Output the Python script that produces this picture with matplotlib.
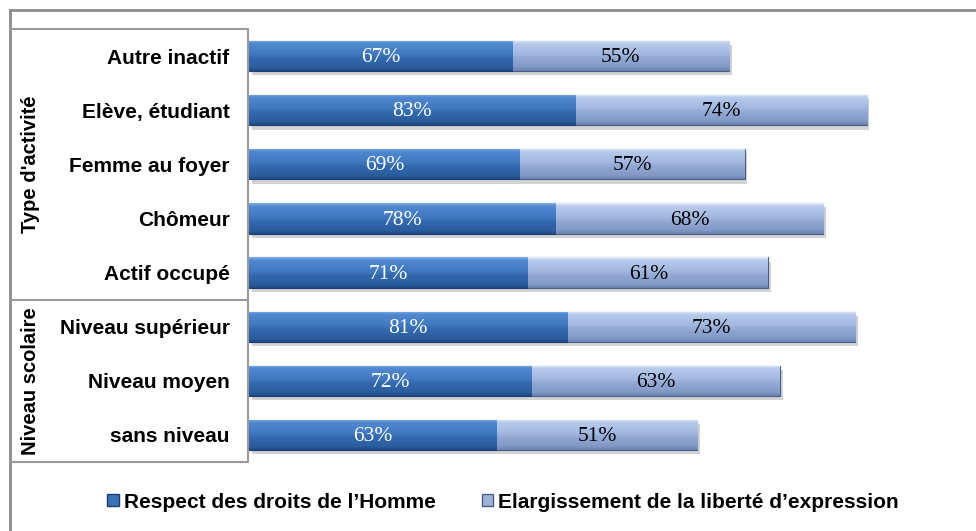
import matplotlib
matplotlib.use("Agg")
import matplotlib.pyplot as plt
import matplotlib.patches as mpatches
import matplotlib.patheffects as pe
from matplotlib.colors import LinearSegmentedColormap
from matplotlib.lines import Line2D
import numpy as np

categories = ["Autre inactif", "Elève, étudiant", "Femme au foyer", "Chômeur",
              "Actif occupé", "Niveau supérieur", "Niveau moyen", "sans niveau"]
respect = [67, 83, 69, 78, 71, 81, 72, 63]
elargissement = [55, 74, 57, 68, 61, 73, 63, 51]
series_names = ["Respect des droits de l\u2019Homme",
                "Elargissement de la liberté d\u2019expression"]
groups = [("Type d'activité", 0, 5), ("Niveau scolaire", 5, 8)]

DARK = [(0.0, "#7EAEE8"), (0.1, "#5089D0"), (0.45, "#4079C0"),
        (0.6, "#3268AE"), (0.88, "#2C5E9E"), (1.0, "#1E4A86")]
LIGHT = [(0.0, "#E4EDFA"), (0.1, "#B8CBEC"), (0.45, "#A2B8E0"),
         (0.6, "#91A8D3"), (0.88, "#8299C6"), (1.0, "#6A82B2")]


def bevel(ax, bars, stops):
    cmap = LinearSegmentedColormap.from_list("b", stops)
    grad = np.linspace(0, 1, 64).reshape(-1, 1)
    for b in bars:
        x0, y0 = b.get_x(), b.get_y()
        w, h = b.get_width(), b.get_height()
        im = ax.imshow(grad, cmap=cmap, aspect="auto", origin="lower",
                       extent=(x0, x0 + w, y0, y0 + h), zorder=3)
        im.set_clip_path(b)


fig = plt.figure(figsize=(9.76, 5.31), dpi=100)
ax = fig.add_axes([249 / 976, 1 - 462 / 531, 716 / 976, 433 / 531])

y = np.arange(len(categories))
shadow = [pe.SimplePatchShadow(offset=(2, -3), shadow_rgbFace="#808080", alpha=0.35), pe.Normal()]
b1 = ax.barh(y, respect, height=0.56, color="#3468AE", edgecolor="#1B3F70",
             linewidth=0.8, zorder=2, path_effects=shadow)
b2 = ax.barh(y, elargissement, left=respect, height=0.56, color="#91A8D3",
             edgecolor="#4A5F88", linewidth=0.8, zorder=2, path_effects=shadow)
bevel(ax, b1, DARK)
bevel(ax, b2, LIGHT)

for i in range(len(categories)):
    ax.text(respect[i] / 2, y[i] + 0.03, f"{respect[i]}%", ha="center", va="center",
            color="white", fontsize=15.5, family="Liberation Serif", zorder=5)
    ax.text(respect[i] + elargissement[i] / 2, y[i] + 0.03, f"{elargissement[i]}%",
            ha="center", va="center", color="black", fontsize=15.5,
            family="Liberation Serif", zorder=5)

ax.set_xlim(0, 182)
ax.set_ylim(len(categories) - 0.5, -0.5)
ax.set_yticks(y)
ax.set_yticklabels(categories, fontsize=15, fontweight="bold",
                   family="Liberation Sans")
ax.tick_params(axis="y", length=0, pad=14)
ax.set_xticks([])
for s in ax.spines.values():
    s.set_visible(False)

# frames
def fline(xs, ys, c="#9A9A9A", lw=1.5):
    fig.add_artist(Line2D([v / 976 for v in xs], [1 - v / 531 for v in ys],
                          color=c, lw=lw))

fline([10, 976], [10, 10], c="#8C8C8C", lw=2)
fline([10, 10], [10, 531], c="#8C8C8C", lw=2)
fline([10, 248, 248, 10], [29, 29, 462, 462])
fline([10, 248], [300, 300])

for name, a, b in groups:
    yc = (29 + 433 * ((a + b) / 2) / len(categories))
    fig.text(31 / 976, 1 - yc / 531, name, rotation=90, ha="center", va="center",
             fontsize=14.5, fontweight="bold", family="Liberation Sans")

handles = [mpatches.Patch(facecolor="#3A72B8", edgecolor="#1B3F70", label=series_names[0]),
           mpatches.Patch(facecolor="#9DB3DC", edgecolor="#4A5F88", label=series_names[1])]
fig.legend(handles=handles, loc="center", bbox_to_anchor=(503 / 976, 1 - 502 / 531),
           ncol=2, frameon=False, handlelength=0.55, handleheight=0.55,
           handletextpad=0.25, columnspacing=2.2,
           prop={"family": "Liberation Sans", "weight": "bold", "size": 15})

fig.savefig("out.png", dpi=100, facecolor="white")
